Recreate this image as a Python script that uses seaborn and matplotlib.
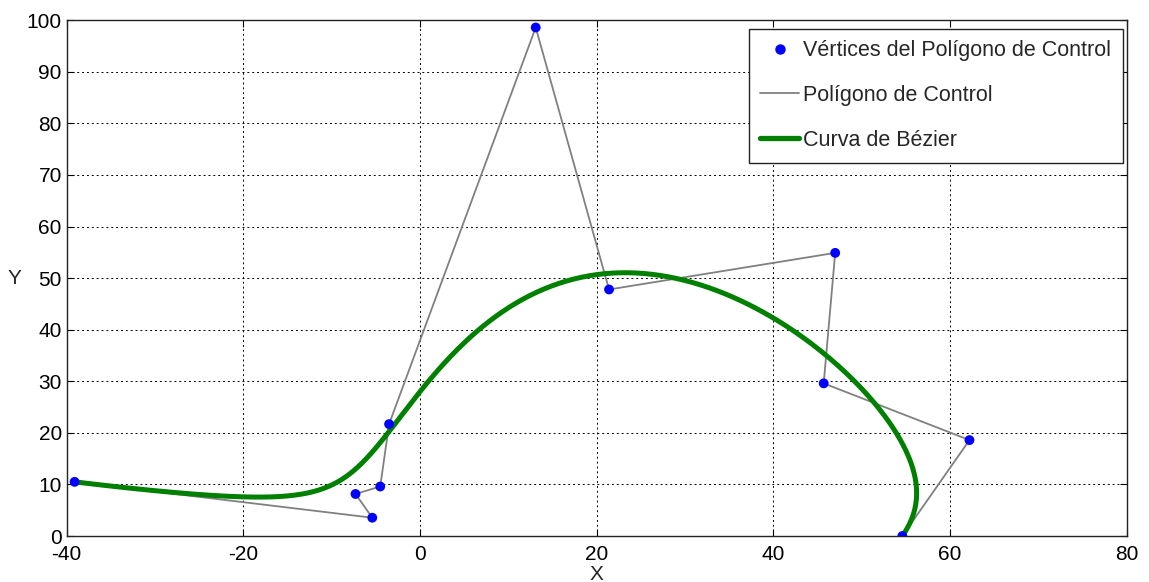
import numpy as np
import pandas as pd
import matplotlib
matplotlib.use("Agg")
import matplotlib.pyplot as plt
import seaborn as sns
from math import comb
from matplotlib.lines import Line2D

# Control polygon vertices
ctrl_x = [-39.1, -5.4, -7.3, -4.5, -3.5, 13.1, 21.4, 47.0, 45.7, 62.2, 54.6]
ctrl_y = [10.5, 3.55, 8.15, 9.6, 21.7, 98.6, 47.8, 54.9, 29.6, 18.6, 0.0]

x_ticks = [-40, -20, 0, 20, 40, 60, 80]
y_ticks = [0, 10, 20, 30, 40, 50, 60, 70, 80, 90, 100]

labels = ["Vértices del Polígono de Control", "Polígono de Control", "Curva de Bézier"]

# Bézier curve defined by the control polygon
n = len(ctrl_x) - 1
t = np.linspace(0, 1, 400)
B = np.array([comb(n, i) * t**i * (1 - t)**(n - i) for i in range(n + 1)])
bez_x = B.T @ np.array(ctrl_x)
bez_y = B.T @ np.array(ctrl_y)

ctrl = pd.DataFrame({"x": ctrl_x, "y": ctrl_y})
bez = pd.DataFrame({"x": bez_x, "y": bez_y})

sns.set_style("white")
plt.rcParams["font.family"] = ["Liberation Sans", "DejaVu Sans"]
plt.rcParams["axes.unicode_minus"] = False

fig = plt.figure(figsize=(11.49, 5.82), dpi=100)
ax = fig.add_axes([0.058, 0.079, 0.9226, 0.8862])

sns.lineplot(data=bez, x="x", y="y", sort=False, estimator=None, color=(0, 0.5, 0),
             linewidth=3.6, ax=ax, zorder=3)
sns.lineplot(data=ctrl, x="x", y="y", sort=False, estimator=None, color=(0.5, 0.5, 0.5),
             linewidth=1.3, ax=ax, zorder=2)
sns.scatterplot(data=ctrl, x="x", y="y", color=(0, 0, 1), s=50, edgecolor="none",
                ax=ax, zorder=4)

ax.set_xlim(-40, 80)
ax.set_ylim(0, 100)
ax.set_xticks(x_ticks)
ax.set_yticks(y_ticks)
ax.tick_params(direction="in", length=5, width=0.8, labelsize=15, colors="black",
               top=True, right=True, bottom=True, left=True)
ax.tick_params(axis="x", pad=6.5)
ax.tick_params(axis="y", pad=3.5)
ax.grid(True, color="black", linestyle=(0, (2, 3)), linewidth=0.7)
for s in ax.spines.values():
    s.set_color("#222222")
    s.set_linewidth(1.0)

ax.set_xlabel("X", fontsize=15, labelpad=0.5)
ax.set_ylabel("Y", fontsize=15, rotation=0, labelpad=9, va="center")

handles = [
    Line2D([], [], linestyle="none", marker="o", markersize=6.5, color=(0, 0, 1)),
    Line2D([], [], color=(0.5, 0.5, 0.5), linewidth=1.3),
    Line2D([], [], color=(0, 0.5, 0), linewidth=3.8),
]
leg = ax.legend(handles, labels, loc="upper right", bbox_to_anchor=(0.9968, 0.984),
                fontsize=15.5, frameon=True, fancybox=False, edgecolor="#222222",
                framealpha=1, handlelength=1.8, handletextpad=0.2, labelspacing=1.1,
                borderpad=0.55, borderaxespad=0)
leg.get_frame().set_linewidth(1.0)

fig.savefig("out.png", dpi=100)
